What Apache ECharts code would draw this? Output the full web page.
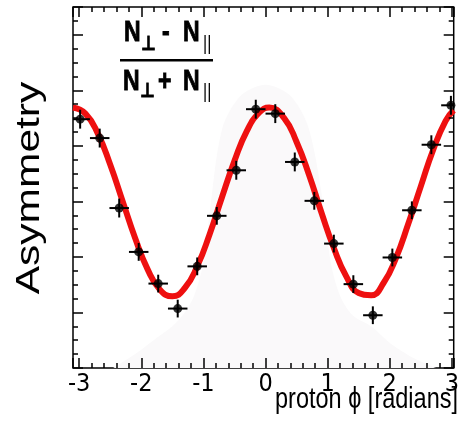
<!DOCTYPE html>
<html><head><meta charset="utf-8">
<script src="https://cdn.jsdelivr.net/npm/echarts@6/dist/echarts.min.js"></script>
<style>html,body{margin:0;padding:0;background:#fff}#c{width:462px;height:426px}</style>
</head><body><div id="c"></div>
<script>
// proton phi bin centres (radians)
const phi = [-2.985, -2.670, -2.356, -2.042, -1.728, -1.414, -1.100, -0.785, -0.471, -0.157,
              0.157,  0.471,  0.785,  1.100,  1.414,  1.728,  2.042,  2.356,  2.670,  2.985];
// measured asymmetry (arbitrary axis units, axis is unlabelled)
const asym = [4.48, 4.14, 2.88, 2.09, 1.52, 1.07, 1.83, 2.74, 3.56, 4.66,
              4.58, 3.71, 3.01, 2.24, 1.51, 0.95, 1.99, 2.84, 4.02, 4.73];
const asymErr = [0.17, 0.17, 0.17, 0.16, 0.16, 0.16, 0.16, 0.16, 0.17, 0.17,
                 0.17, 0.17, 0.16, 0.16, 0.16, 0.16, 0.16, 0.16, 0.17, 0.17];
const phiHalfBin = 0.157;
// fitted curve
const fitPhi = [-3.1, -2.9, -2.7, -2.5, -2.3, -2.1, -1.9, -1.7, -1.5, -1.3, -1.1, -0.9, -0.7, -0.5, -0.3, -0.1, 0.06,
                 0.3, 0.5, 0.7, 0.9, 1.1, 1.3, 1.5, 1.7, 1.9, 2.1, 2.3, 2.5, 2.7, 2.9, 3.03];
const fitAsym = [4.69, 4.58, 4.22, 3.66, 3.00, 2.34, 1.78, 1.41, 1.29, 1.44, 1.83, 2.41, 3.08, 3.73, 4.27, 4.60, 4.69,
                 4.50, 4.07, 3.48, 2.80, 2.16, 1.65, 1.35, 1.31, 1.53, 1.98, 2.60, 3.27, 3.93, 4.45, 4.64];
// faint grey background distribution
const bgPhi = [-2.45, -2.1, -1.8, -1.5, -1.3, -1.15, -1.0, -0.9, -0.7, -0.4, 0.0, 0.4, 0.7, 0.95, 1.05, 1.2, 1.4, 1.7, 2.0, 2.35, 2.75];
const bgLevel = [0, 0.25, 0.5, 0.75, 1.0, 1.3, 1.9, 2.8, 4.3, 4.9, 5.1, 4.9, 4.3, 2.8, 1.9, 1.3, 0.95, 0.75, 0.45, 0.2, 0];
const xTickLabels = ['-3', '-2', '-1', '0', '1', '2', '3'];

const X_MIN = -3.1, X_MAX = 3.03, Y_MIN = 0, Y_MAX = 6.5;
const chart = echarts.init(document.getElementById('c'), null, {renderer: 'canvas'});

const tickStyle = {color: '#000', width: 1.5};
function xAx(pos, major, labels) {
  return {
    type: 'value', position: pos, min: X_MIN, max: X_MAX,
    minInterval: major ? 1 : 0.2, maxInterval: major ? 1 : 0.2, splitNumber: major ? 6 : 30,
    axisLine: {show: false, onZero: false}, splitLine: {show: false}, z: 10,
    axisTick: {show: true, inside: true, length: major ? 10 : 5, lineStyle: tickStyle},
    axisLabel: labels ? {
      show: true, margin: 4, color: '#000', fontSize: 25,
      fontFamily: '"Liberation Sans Narrow", "DejaVu Sans Condensed", "Liberation Sans", sans-serif',
      showMinLabel: true, showMaxLabel: true,
      formatter: v => { const s = String(Math.round(v)); return (Math.abs(v - Math.round(v)) < 1e-6 && xTickLabels.includes(s)) ? s : ''; }
    } : {show: false}
  };
}
function yAx(pos, major) {
  return {
    type: 'value', position: pos, min: Y_MIN, max: Y_MAX, interval: major ? 1 : 0.25,
    axisLine: {show: false, onZero: false}, splitLine: {show: false}, z: 10,
    axisTick: {show: true, inside: true, length: major ? 10 : 5, lineStyle: tickStyle},
    axisLabel: {show: false}
  };
}
const sansFont = '"Liberation Sans", Arial, sans-serif';
function fTxt(text, x, y, size, bold, family) {
  return {type: 'text', x: x, y: y, scaleY: 1.25, style: {
    text: text, fontSize: size, fontWeight: bold ? 'bold' : 'normal', fontFamily: family || sansFont,
    fill: '#000', stroke: bold ? '#000' : null, lineWidth: bold ? 0.7 : 0, align: 'left', verticalAlign: 'middle'}};
}

const option = {
  animation: false,
  backgroundColor: '#fff',
  grid: {left: 73, top: 7, right: 6, bottom: 58, show: true, borderColor: '#000', borderWidth: 1.5, backgroundColor: 'transparent'},
  xAxis: [xAx('bottom', true, true), xAx('bottom', false, false), xAx('top', true, false), xAx('top', false, false)],
  yAxis: [yAx('left', true), yAx('left', false), yAx('right', true), yAx('right', false)],
  series: [
    {
      type: 'line', xAxisIndex: 0, yAxisIndex: 0, silent: true, z: 0,
      data: bgPhi.map((x, i) => [x, bgLevel[i]]), smooth: 0.3, symbol: 'none',
      lineStyle: {width: 0}, areaStyle: {color: '#faf9fa', opacity: 1}
    },
    {
      type: 'line', xAxisIndex: 0, yAxisIndex: 0, silent: true, z: 3,
      data: fitPhi.map((x, i) => [x, fitAsym[i]]), smooth: true, symbol: 'none',
      lineStyle: {color: '#ee1010', width: 6}
    },
    {
      type: 'custom', xAxisIndex: 0, yAxisIndex: 0, silent: true, z: 4, clip: true,
      data: phi.map((x, i) => [x, asym[i], asymErr[i]]),
      renderItem: (params, api) => {
        const x = api.value(0), y = api.value(1), e = api.value(2);
        const l = api.coord([x - phiHalfBin, y]), r = api.coord([x + phiHalfBin, y]);
        const t = api.coord([x, y + e]), b = api.coord([x, y - e]);
        const st = {stroke: '#000', lineWidth: 2};
        return {type: 'group', children: [
          {type: 'line', shape: {x1: l[0], y1: l[1], x2: r[0], y2: r[1]}, style: st},
          {type: 'line', shape: {x1: t[0], y1: t[1], x2: b[0], y2: b[1]}, style: st}
        ]};
      }
    },
    {
      type: 'scatter', xAxisIndex: 0, yAxisIndex: 0, silent: true, z: 5,
      data: phi.map((x, i) => [x, asym[i]]), symbol: 'circle', symbolSize: 9,
      itemStyle: {color: '#000'}
    }
  ],
  graphic: [
    fTxt('N', 124, 33, 23, true),
    fTxt('⊥', 141, 45, 16, true, '"DejaVu Sans", sans-serif'),
    fTxt('-', 162, 33, 23, true),
    fTxt('N', 183, 33, 23, true),
    fTxt('||', 203, 44, 16, false),
    {type: 'rect', shape: {x: 120, y: 59, width: 93, height: 2.5}, style: {fill: '#000'}},
    fTxt('N', 123, 82, 23, true),
    fTxt('⊥', 140, 92, 16, true, '"DejaVu Sans", sans-serif'),
    fTxt('+', 158, 82.5, 23, true),
    fTxt('N', 183, 82, 23, true),
    fTxt('||', 203, 92.5, 16, false),
    {type: 'text', x: 30, y: 188, rotation: Math.PI / 2, scaleX: 1.25, style: {text: 'Asymmetry', fontSize: 34, fontFamily: sansFont, fill: '#000', align: 'center', verticalAlign: 'middle'}},
    {type: 'text', x: 458, y: 400, scaleY: 1.25, style: {text: 'proton ϕ [radians]', fontSize: 23.5, fontFamily: sansFont, fill: '#000', align: 'right', verticalAlign: 'middle'}}
  ]
};
chart.setOption(option);
</script>
</body></html>
